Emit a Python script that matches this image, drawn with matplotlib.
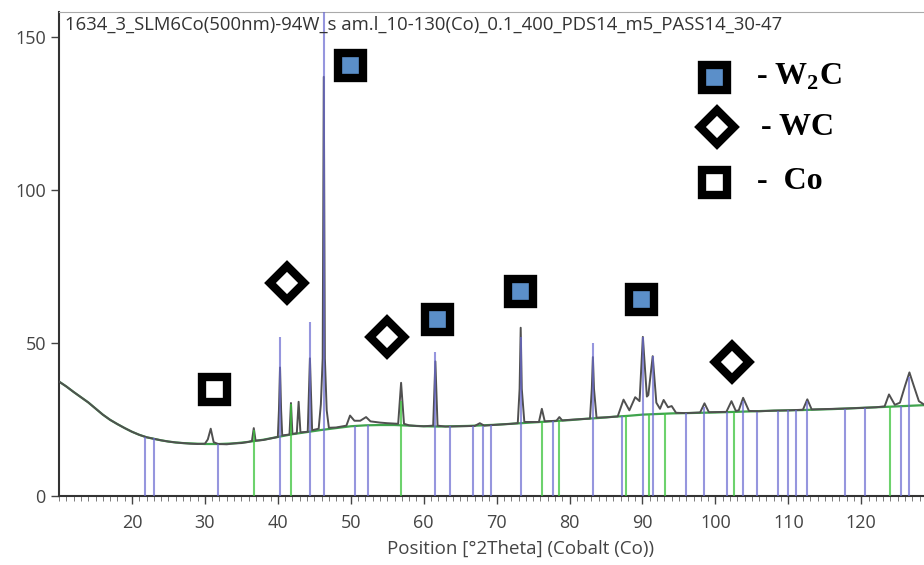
import numpy as np
import matplotlib.pyplot as plt
from matplotlib.ticker import MultipleLocator

plt.rcParams['font.family'] = ['Open Sans', 'DejaVu Sans']
plt.rcParams['mathtext.fontset'] = 'custom'
plt.rcParams['mathtext.rm'] = 'Liberation Serif:bold'

title = '1634_3_SLM6Co(500nm)-94W_s am.l_10-130(Co)_0.1_400_PDS14_m5_PASS14_30-47'

profile = [
    (10, 37.4), (11, 35.8), (12, 34.0), (13, 32.3), (14, 30.6), (15, 28.6), (16, 26.6),
    (17, 24.9), (18, 23.5), (19, 22.2), (20, 21.0), (21, 20.0), (22, 19.2), (23, 18.7),
    (24, 18.2), (25, 17.8), (26, 17.5), (27, 17.3), (28, 17.1), (29, 17.0), (30, 17.1),
    (30.4, 18.5), (30.8, 22.0), (31.2, 17.6), (31.8, 17.0), (33, 16.9), (34, 17.2),
    (35, 17.3), (36, 17.7), (36.45, 18.0), (36.7, 22.2), (36.95, 18.1), (38, 18.3),
    (39, 18.8), (40.0, 19.3), (40.15, 28), (40.3, 42), (40.45, 28), (40.6, 19.8),
    (41.6, 20.1), (41.8, 30.4), (42.0, 20.3), (42.6, 20.5), (42.85, 30.8), (43.1, 20.8),
    (44.1, 21.0), (44.25, 33), (44.4, 45), (44.55, 33), (44.7, 21.5), (45.6, 22.0),
    (45.9, 30), (46.15, 45), (46.3, 137), (46.45, 45), (46.7, 28), (47.0, 22.3),
    (48, 22.4), (49.4, 23.0), (49.9, 26.3), (50.5, 24.6), (51.3, 24.6), (52.1, 25.8),
    (52.7, 24.4), (54, 24.0), (55, 23.8), (56.5, 23.6), (56.9, 37), (57.3, 23.6),
    (58, 23.1), (59, 22.9), (60, 22.8), (61.3, 23.0), (61.6, 44), (61.9, 23.0),
    (63, 22.7), (65, 22.8), (67, 22.9), (67.7, 23.8), (68.3, 23.0), (70, 23.3),
    (72, 23.6), (72.9, 23.8), (73.15, 35), (73.3, 55), (73.45, 35), (73.8, 24.2),
    (75.8, 24.2), (76.2, 28.5), (76.6, 24.4), (78.2, 24.6), (78.6, 25.8), (79, 24.7),
    (80, 24.9), (82.8, 25.3), (83.05, 35), (83.2, 45.4), (83.35, 35), (83.7, 25.6),
    (85, 25.7), (86.6, 26.0), (87.4, 31.5), (88.2, 28.0), (89.0, 32.3), (89.6, 31),
    (90.05, 52), (90.6, 32.5), (90.8, 33), (91.4, 45.7), (91.9, 30.5), (92.4, 28.5),
    (92.9, 31.4), (93.5, 29.0), (94.0, 29.4), (94.6, 27.2), (96, 27.1), (97.9, 27.3),
    (98.5, 30.3), (99.1, 27.4), (101.5, 27.5), (102.2, 31.0), (102.8, 27.8), (103.2, 28.0),
    (103.8, 32.1), (104.6, 27.8), (106, 27.7), (108, 27.9), (110, 28.0), (112.0, 28.2),
    (112.6, 31.6), (113.2, 28.3), (115, 28.4), (118, 28.6), (120, 28.8), (122, 29.0),
    (123.2, 29.3), (123.8, 33.2), (124.6, 29.8), (125.3, 30.5), (126.0, 36), (126.6, 40.4),
    (127.2, 36), (127.9, 31), (128.6, 29.9),
]

background = [
    (10, 37.4), (11, 35.8), (12, 34.0), (13, 32.3), (14, 30.6), (15, 28.6), (16, 26.6),
    (17, 24.9), (18, 23.5), (19, 22.2), (20, 21.0), (21, 20.0), (22, 19.2), (23, 18.7),
    (24, 18.2), (25, 17.8), (26, 17.5), (27, 17.3), (28, 17.2), (30, 17.0), (32, 17.0),
    (34, 17.2), (36, 17.7), (38, 18.4), (40, 19.3), (42, 20.2), (44, 20.9), (46, 21.6),
    (48, 22.2), (50, 22.8), (52, 23.1), (54, 23.2), (56, 23.2), (58, 23.0), (60, 22.8),
    (62, 22.7), (64, 22.8), (66, 22.9), (68, 23.1), (70, 23.3), (72, 23.6), (74, 23.9),
    (76, 24.2), (78, 24.5), (80, 24.8), (82, 25.2), (84, 25.5), (86, 25.9), (88, 26.2),
    (90, 26.6), (92, 26.8), (94, 27.0), (96, 27.1), (100, 27.3), (104, 27.6), (108, 27.9),
    (112, 28.1), (116, 28.4), (120, 28.8), (124, 29.2), (128.6, 29.7),
]

# reference sticks (position, top)
ref_blue = [
    (21.8, 19.3), (23.0, 19.0), (31.8, 17.0), (40.3, 52), (44.4, 57), (46.3, 160),
    (50.6, 23.0), (52.3, 23.3), (61.6, 47), (63.6, 22.8), (66.7, 22.8), (68.1, 23.0),
    (69.2, 23.2), (73.4, 52), (77.7, 24.5), (83.2, 50), (87.2, 26.0), (90.05, 52),
    (91.4, 45.7), (95.9, 27.0), (98.5, 29.0), (101.6, 27.5), (103.8, 31.0), (105.7, 27.6),
    (108.6, 27.8), (110.0, 28.0), (111.1, 28.0), (112.6, 31.0), (117.7, 28.5),
    (120.5, 28.8), (125.4, 29.5), (126.6, 39),
]
ref_green = [
    (36.7, 21.5), (41.8, 30), (56.9, 31), (76.2, 24.3), (78.5, 24.5), (87.8, 26.0),
    (90.9, 26.7), (93.1, 27.0), (102.5, 27.5), (124.0, 29.3),
]

# phase symbols on the peaks
w2c_marks = [(49.9, 140.8), (61.8, 57.8), (73.2, 67.0), (89.8, 64.4)]
wc_marks = [(41.3, 69.6), (55.0, 52.0), (102.3, 43.8)]
co_marks = [(31.25, 35.0)]

fig = plt.figure(figsize=(9.24, 5.65), dpi=100)
ax = fig.add_axes([0.0639, 0.1221, 0.9361, 0.8567])

bx, by = zip(*background)
ax.plot(bx, by, color='#3fa34d', lw=1.6, zorder=2)
px, py = zip(*profile)
ax.plot(px, py, color='#505050', lw=1.4, zorder=3)

bpos, btop = zip(*ref_blue)
ax.vlines(bpos, 0, btop, colors='#6a6ad0', lw=1.5, alpha=0.7, zorder=4)
gpos, gtop = zip(*ref_green)
ax.vlines(gpos, 0, gtop, colors='#3cc43c', lw=1.5, alpha=0.75, zorder=4)

sq_kw = dict(marker='s', ms=18, mew=6, mec='black', ls='none', zorder=6)
dm_kw = dict(marker='D', ms=17, mew=6, mec='black', mfc='white', ls='none', zorder=6)
ax.plot(*zip(*w2c_marks), mfc='#5b8fc9', **sq_kw)
ax.plot(*zip(*co_marks), mfc='white', **sq_kw)
ax.plot(*zip(*wc_marks), **dm_kw)

# legend drawn as in the picture
ax.plot([0.7727], [0.8637], transform=fig.transFigure, mfc='#5b8fc9', clip_on=False, **sq_kw)
ax.plot([0.776], [0.7752], transform=fig.transFigure, clip_on=False, **dm_kw)
ax.plot([0.7727], [0.6779], transform=fig.transFigure, mfc='white', clip_on=False, **sq_kw)
leg_kw = dict(family='Liberation Serif', fontweight='bold', fontsize=23, va='center')
fig.text(0.818, 0.8637, '- W$_2$C', **leg_kw)
fig.text(0.8235, 0.7752, '- WC', **leg_kw)
fig.text(0.819, 0.6779, '-  Co', **leg_kw)

fig.text(65 / 924, 1 - 25 / 565, title, fontsize=13.3, color='#333333', va='center')

ax.set_xlim(10, 128.6)
ax.set_ylim(0, 158.2)
ax.set_xticks(range(20, 130, 10))
ax.xaxis.set_minor_locator(MultipleLocator(1))
ax.set_yticks([0, 50, 100, 150])
ax.tick_params(which='major', direction='out', length=6, width=1, colors='#444444', labelsize=13)
ax.tick_params(axis='x', which='major', pad=7)
ax.tick_params(axis='x', which='minor', length=3.5, color='#666666')
ax.spines['right'].set_visible(False)
ax.spines['top'].set_color('#aaaaaa')
ax.spines['left'].set_color('#333333')
ax.spines['bottom'].set_color('#333333')
ax.spines['left'].set_linewidth(1.5)
ax.spines['bottom'].set_linewidth(1.5)

ax.set_xlabel('Position [°2Theta] (Cobalt (Co))', fontsize=13.5, color='#444444')
ax.xaxis.set_label_coords(0.533, -0.09)

fig.savefig('out.png', dpi=100)
